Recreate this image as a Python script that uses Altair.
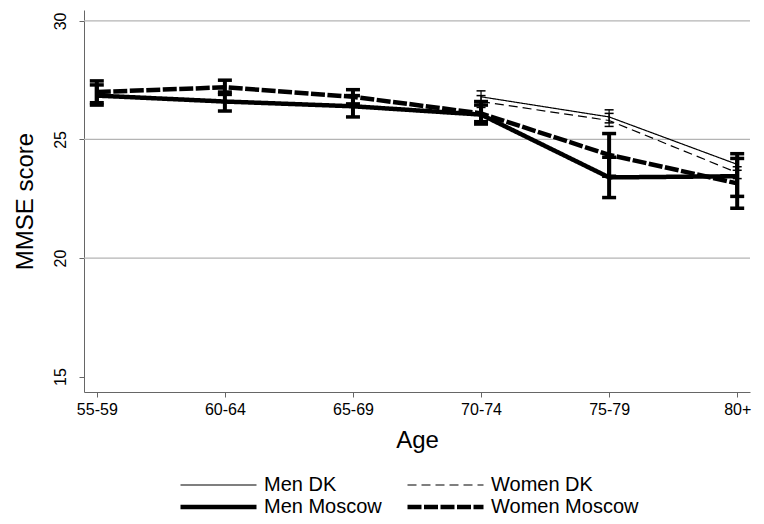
import altair as alt
import pandas as pd

# ---- data ----
ages = ["55-59", "60-64", "65-69", "70-74", "75-79", "80+"]
series_names = ["Men DK", "Women DK", "Men Moscow", "Women Moscow"]

men_dk = [None, None, None, 26.8, 25.95, 23.95]
men_dk_lo = [None, None, None, 26.55, 25.7, 23.7]
men_dk_hi = [None, None, None, 27.05, 26.25, 24.2]

women_dk = [None, None, None, 26.6, 25.8, 23.6]
women_dk_lo = [None, None, None, 26.35, 25.55, 23.35]
women_dk_hi = [None, None, None, 26.85, 26.1, 23.85]

men_msk = [26.85, 26.6, 26.4, 26.05, 23.4, 23.45]
men_msk_lo = [26.55, 26.2, 25.95, 25.65, 22.55, 22.6]
men_msk_hi = [27.3, 27.0, 26.85, 26.45, 24.25, 24.4]

women_msk = [27.0, 27.2, 26.8, 26.1, 24.35, 23.15]
women_msk_lo = [26.45, 26.9, 26.5, 25.75, 23.45, 22.1]
women_msk_hi = [27.47, 27.5, 27.1, 26.6, 25.25, 24.2]

grid_values = [20, 25, 30]
y_ticks = [15, 20, 25, 30]

# ---- build long table ----
series_data = {
    "Men DK": (men_dk, men_dk_lo, men_dk_hi, "DK"),
    "Women DK": (women_dk, women_dk_lo, women_dk_hi, "DK"),
    "Men Moscow": (men_msk, men_msk_lo, men_msk_hi, "Moscow"),
    "Women Moscow": (women_msk, women_msk_lo, women_msk_hi, "Moscow"),
}
rows = []
for name in series_names:
    vals, los, his, grp = series_data[name]
    for a, v, lo, hi in zip(ages, vals, los, his):
        if v is None:
            continue
        rows.append({"age": a, "series": name, "group": grp, "mmse": v, "lo": lo, "hi": hi})
df = pd.DataFrame(rows)
grid_df = pd.DataFrame({"g": grid_values})

FONT = "Liberation Sans"

x_scale = alt.Scale(type="point", domain=ages, padding=0.1)
x_axis = alt.Axis(
    title="Age", labelAngle=0, labelAlign="center", labelBaseline="top",
    labelFontSize=16, titleFontSize=24, titleFontWeight="normal", tickSize=5,
    labelPadding=4, titlePadding=11, domainColor="#666", tickColor="#666",
    labelColor="#000", titleColor="#000", grid=False,
)
x_enc = alt.X("age:N", scale=x_scale, axis=x_axis)

y_scale = alt.Scale(domain=[14.35, 30.46], nice=False, zero=False)
y_axis = alt.Axis(
    title="MMSE score", values=y_ticks, labelAngle=270, labelAlign="center",
    labelBaseline="bottom", labelFontSize=16, titleFontSize=24,
    titleFontWeight="normal", tickSize=5, labelPadding=11, titlePadding=15,
    domainColor="#666", tickColor="#666", labelColor="#000", titleColor="#000",
    grid=False,
)

grid = alt.Chart(grid_df).mark_rule(color="#b4b4b4", strokeWidth=1.3).encode(
    y=alt.Y("g:Q", scale=y_scale, axis=y_axis)
)

def err_layers(grp, rule_w, cap_size, cap_thick):
    base = alt.Chart(df).transform_filter(alt.datum.group == grp)
    rule = base.mark_rule(color="black", strokeWidth=rule_w).encode(
        x=x_enc, y=alt.Y("lo:Q", scale=y_scale, axis=y_axis), y2="hi:Q"
    )
    caps = base.transform_fold(["lo", "hi"], as_=["end", "val"]).mark_tick(
        color="black", orient="horizontal", size=cap_size, thickness=cap_thick, opacity=1
    ).encode(x=x_enc, y=alt.Y("val:Q", scale=y_scale, axis=y_axis))
    return rule + caps

err_dk = err_layers("DK", 1.2, 9, 1.5)
err_msk = err_layers("Moscow", 4, 14, 3.5)

legend_cfg = dict(
    title=None, orient="none", legendX=94, legendY=465, columns=2,
    direction="horizontal", columnPadding=23, rowPadding=2, clipHeight=20,
    symbolType="stroke", symbolSize=5776, symbolStrokeColor="black",
    labelFontSize=20, labelColor="#000", labelOffset=5, padding=0,
)

lines = alt.Chart(df).mark_line(color="black").encode(
    x=x_enc,
    y=alt.Y("mmse:Q", scale=y_scale, axis=y_axis),
    detail="series:N",
    strokeDash=alt.StrokeDash(
        "series:N",
        sort=series_names,
        scale=alt.Scale(type="ordinal", domain=series_names,
                        range=[[1, 0], [9, 5], [1, 0], [14, 2.5]]),
        legend=alt.Legend(**legend_cfg),
    ),
    strokeWidth=alt.StrokeWidth(
        "series:N",
        sort=series_names,
        scale=alt.Scale(type="ordinal", domain=series_names,
                        range=[1.2, 1.2, 4.5, 4.5]),
        legend=alt.Legend(**legend_cfg),
    ),
)

chart = alt.layer(grid, err_dk, err_msk, lines).properties(
    width=666, height=382,
    autosize=alt.AutoSizeParams(type="none"),
    padding={"left": 76, "top": 2, "right": 6, "bottom": 128},
).configure(font=FONT).configure_view(stroke=None)

chart.save("out.html", embed_options={"renderer": "svg", "actions": False})
